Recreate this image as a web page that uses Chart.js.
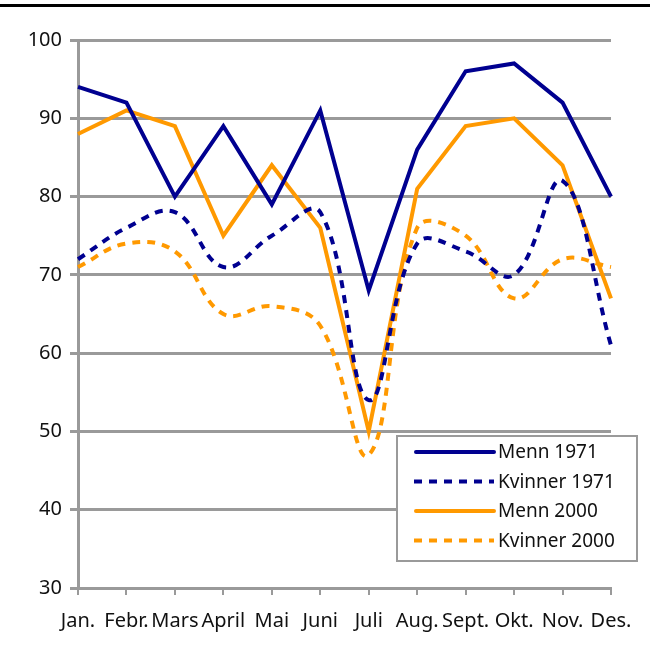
<!DOCTYPE html>
<html>
<head>
<meta charset="utf-8">
<script src="https://cdn.jsdelivr.net/npm/chart.js@4/dist/chart.umd.min.js"></script>
<style>
  html, body { margin: 0; padding: 0; background: #fff; }
  #wrap { width: 650px; height: 648px; position: relative; }
</style>
</head>
<body>
<div id="wrap"><canvas id="lonnChart" width="650" height="648"></canvas></div>
<script>
const months = ["Jan.", "Febr.", "Mars", "April", "Mai", "Juni", "Juli", "Aug.", "Sept.", "Okt.", "Nov.", "Des."];

const menn1971 = [94, 92, 80, 89, 79, 91, 68, 86, 96, 97, 92, 80];
const kvinner1971 = [72, 76, 78, 71, 75, 78, 54, 74, 73, 70, 82, 61];
const menn2000 = [88, 91, 89, 75, 84, 76, 50, 81, 89, 90, 84, 67];
const kvinner2000 = [71, 74, 73, 65, 66, 63.5, 47, 76, 75, 67, 72, 71];

const yTicks = [30, 40, 50, 60, 70, 80, 90, 100];

const BLUE = "#000090";
const ORANGE = "#ff9900";
const GRID = "#9a9a9a";
const FONT = "'Noto Sans', 'Open Sans', sans-serif";
const NARROW = "'Liberation Sans Narrow', 'Noto Sans', sans-serif";

// top black rule + legend box drawn inside the plot
const extras = {
      id: "extras",
      afterDraw(chart) {
            const ctx = chart.ctx;
            ctx.save();
            ctx.fillStyle = "#000";
            ctx.fillRect(0, 4, 650, 3);

            const box = { x: 397, y: 436, w: 240, h: 125 };
            ctx.fillStyle = "#fff";
            ctx.fillRect(box.x, box.y, box.w, box.h);
            ctx.strokeStyle = GRID;
            ctx.lineWidth = 2;
            ctx.strokeRect(box.x, box.y, box.w, box.h);

            ctx.font = "19px " + FONT;
            ctx.textBaseline = "middle";
            chart.data.datasets.forEach((ds, i) => {
                  const y = box.y + 16 + i * 29.5;
                  ctx.strokeStyle = ds.borderColor;
                  ctx.lineWidth = 4;
                  ctx.setLineDash(ds.borderDash || []);
                  ctx.lineCap = ds.borderDash ? "butt" : "round";
                  ctx.beginPath();
                  ctx.moveTo(ds.borderDash ? 414 : 416, y);
                  ctx.lineTo(494, y);
                  ctx.stroke();
                  ctx.setLineDash([]);
                  ctx.fillStyle = "#111";
                  ctx.fillText(ds.label, 498, y + 1);
            });
            ctx.restore();
      },
};

const ctx = document.getElementById("lonnChart");

new Chart(ctx, {
      type: "line",
      data: {
            labels: months,
            datasets: [
                  {
                        label: "Menn 1971",
                        data: menn1971,
                        borderColor: BLUE,
                        borderWidth: 4,
                        tension: 0,
                        pointRadius: 0,
                  },
                  {
                        label: "Kvinner 1971",
                        data: kvinner1971,
                        borderColor: BLUE,
                        borderWidth: 4,
                        borderDash: [8, 7],
                        tension: 0.4,
                        pointRadius: 0,
                  },
                  {
                        label: "Menn 2000",
                        data: menn2000,
                        borderColor: ORANGE,
                        borderWidth: 4,
                        tension: 0,
                        pointRadius: 0,
                  },
                  {
                        label: "Kvinner 2000",
                        data: kvinner2000,
                        borderColor: ORANGE,
                        borderWidth: 4,
                        borderDash: [8, 7],
                        tension: 0.4,
                        pointRadius: 0,
                  },
            ],
      },
      options: {
            responsive: false,
            animation: false,
            layout: { padding: { top: 40, right: 39, left: 0, bottom: 0 } },
            plugins: {
                  legend: { display: false },
                  tooltip: { enabled: false },
            },
            scales: {
                  x: {
                        offset: false,
                        grid: {
                              drawOnChartArea: false,
                              color: GRID,
                              lineWidth: 2,
                              tickLength: 7,
                        },
                        border: { color: GRID, width: 3 },
                        ticks: {
                              color: "#111",
                              font: { family: NARROW, size: 20 },
                              maxRotation: 0,
                              autoSkip: false,
                              padding: 14,
                        },
                        afterFit(scale) {
                              scale.height = 60;
                        },
                  },
                  y: {
                        min: 30,
                        max: 100,
                        afterBuildTicks(scale) {
                              scale.ticks = yTicks.map((v) => ({ value: v }));
                        },
                        grid: {
                              color: GRID,
                              lineWidth: 3,
                              tickLength: 8,
                        },
                        border: { color: GRID, width: 3 },
                        ticks: {
                              color: "#111",
                              font: { family: NARROW, size: 20 },
                              padding: 8,
                        },
                        afterFit(scale) {
                              scale.width = 78;
                        },
                  },
            },
      },
      plugins: [extras],
});
</script>
</body>
</html>
